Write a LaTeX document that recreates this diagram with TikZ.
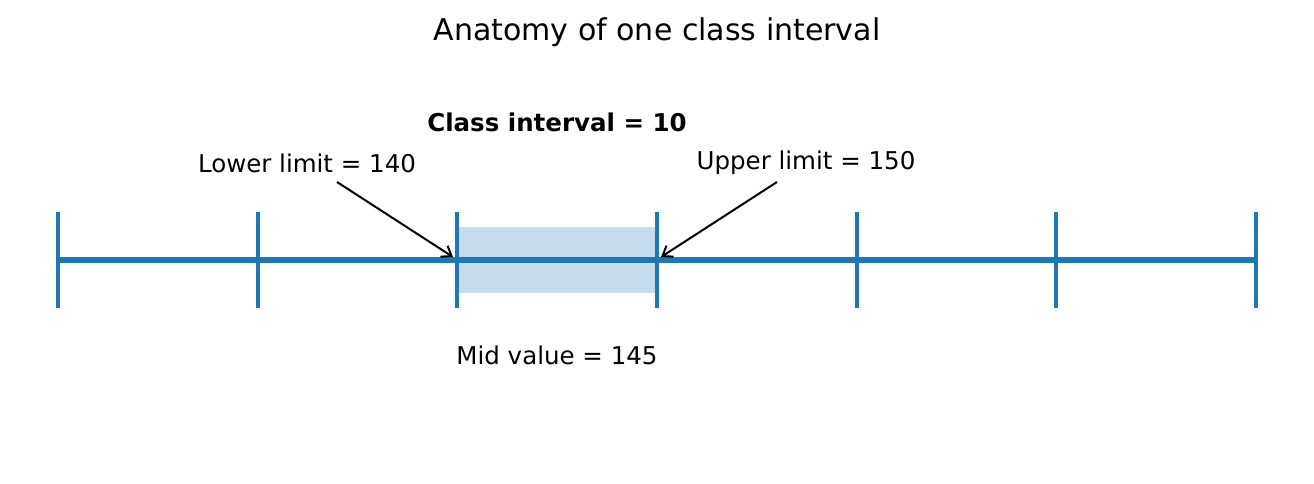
\documentclass[tikz,border=0pt]{standalone}
\usepackage{fontspec}
\setmainfont{DejaVu Sans}
\usetikzlibrary{arrows.meta}
\definecolor{mblue}{RGB}{31,119,180}
\definecolor{lblue}{RGB}{198,219,237}
\begin{document}
\begin{tikzpicture}[x=1pt,y=-1pt,
  tick/.style={mblue,line width=4pt},
  lbl/.style={font=\fontsize{24.5}{28}\selectfont,inner sep=0pt},
  arr/.style={-{Straight Barb[length=9pt,width=13pt]},line width=2pt}]
\useasboundingbox (0,0) rectangle (1314,483);
\fill[lblue] (457,227) rectangle (657,293);
\draw[mblue,line width=5.5pt] (58,260) -- (1256,260);
\foreach \x in {58,258,457,657,857,1056,1256}
  \draw[tick] (\x,212) -- (\x,308);
\node[font=\fontsize{30}{34}\selectfont] (title) at (657,32) {Anatomy of one class interval};
\node[lbl,font=\fontsize{24.5}{28}\selectfont\bfseries] (ci) at (557,122) {Class interval = 10};
\node[lbl] (lo) at (307,163) {Lower limit = 140};
\node[lbl] (up) at (806,163) {Upper limit = 150};
\node[lbl] (mid) at (557,355) {Mid value = 145};
\coordinate (los) at (337,182);
\coordinate (loe) at (453,257);
\coordinate (ups) at (777,182);
\coordinate (upe) at (661,257);
\draw[arr] (los) -- (loe);
\draw[arr] (ups) -- (upe);
\end{tikzpicture}
\end{document}
